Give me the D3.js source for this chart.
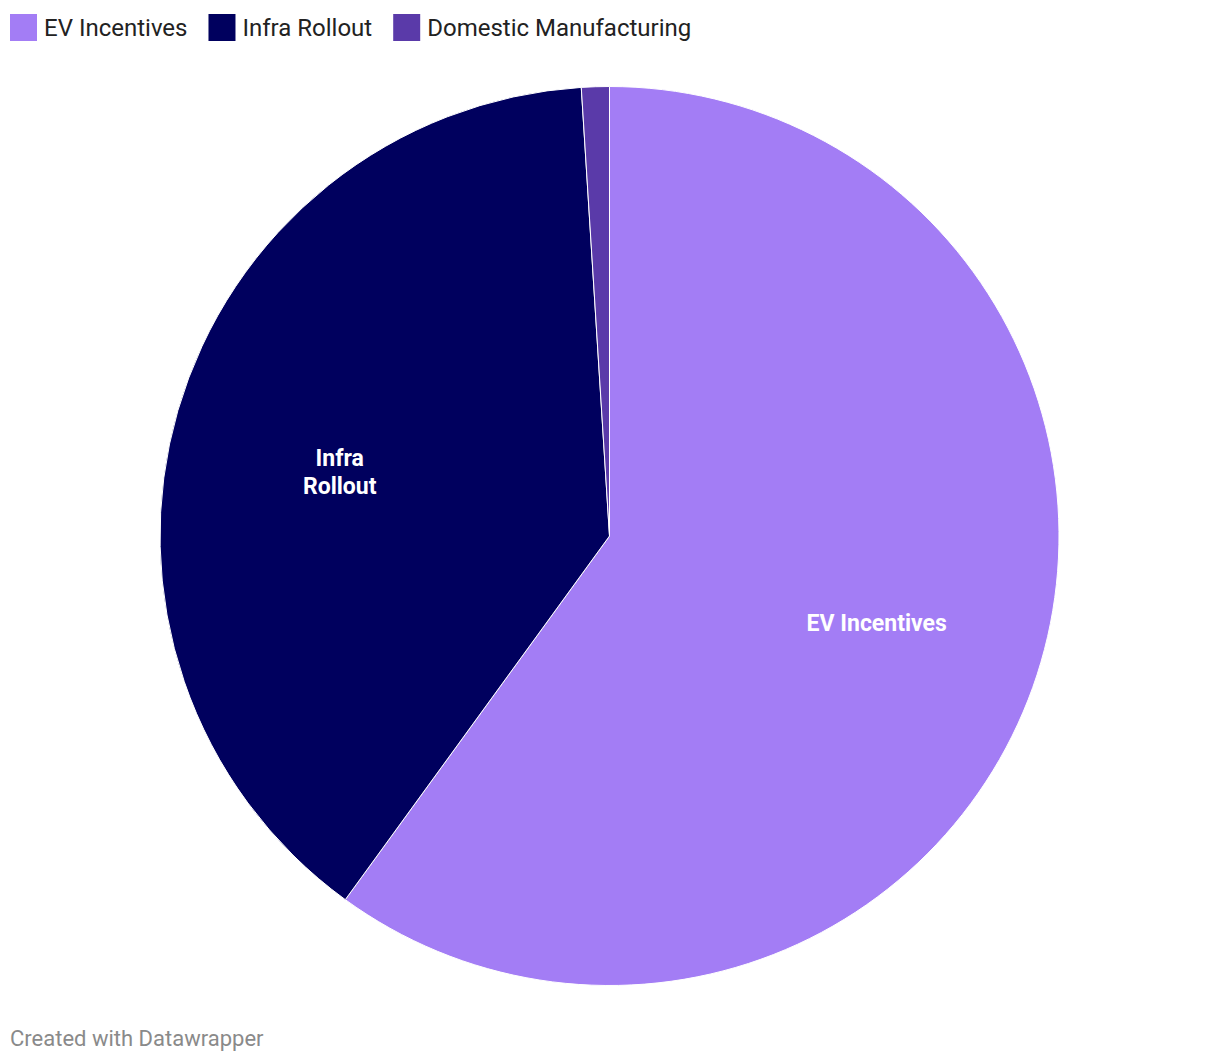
<!DOCTYPE html>
<html><head><meta charset="utf-8">
<script src="https://cdn.jsdelivr.net/npm/d3@7"></script>
<style>body{margin:0;background:#fff;font-family:Roboto,sans-serif;}</style>
</head><body>
<svg id="c" width="1220" height="1062"></svg>
<script>
const categories = ["EV Incentives", "Infra Rollout", "Domestic Manufacturing"];
const values = [60, 39, 1];
const colors = ["#a37df5", "#00005e", "#5a3aa9"];
const sliceLabels = [["EV Incentives"], ["Infra", "Rollout"], []];

const svg = d3.select("#c");
const cx = 609.5, cy = 536, R = 449.5;
const data = categories.map((c, i) => ({name: c, value: values[i], color: colors[i], lab: sliceLabels[i]}));
const pie = d3.pie().value(d => d.value).sort(null);
const arc = d3.arc().innerRadius(0).outerRadius(R);
const labelArc = d3.arc().innerRadius(R * 0.625).outerRadius(R * 0.625);
const g = svg.append("g").attr("transform", `translate(${cx},${cy})`);
const arcs = pie(data);
g.selectAll("path").data(arcs).join("path")
  .attr("d", arc).attr("fill", d => d.data.color)
  .attr("stroke", "#fff").attr("stroke-width", 1);
arcs.forEach(a => {
  if (!a.data.lab.length) return;
  const [x, y] = labelArc.centroid(a);
  const t = g.append("text").attr("text-anchor", "middle").attr("fill", "#fff")
    .attr("font-weight", "bold").attr("font-size", 23);
  a.data.lab.forEach((l, j) => {
    t.append("tspan").attr("x", x).attr("y", y + j * 28 + 8).text(l);
  });
});

// legend
const leg = svg.append("g");
let lx = 10;
data.forEach(d => {
  leg.append("rect").attr("x", lx).attr("y", 14).attr("width", 27).attr("height", 27).attr("fill", d.color);
  const t = leg.append("text").attr("x", lx + 34).attr("y", 36).attr("font-size", 24).attr("fill", "#222").text(d.name);
  lx += 34 + t.node().getComputedTextLength() + 21;
});

svg.append("text").attr("x", 10).attr("y", 1046).attr("font-size", 22).attr("fill", "#8a8a8a").text("Created with Datawrapper");
</script>
</body></html>
